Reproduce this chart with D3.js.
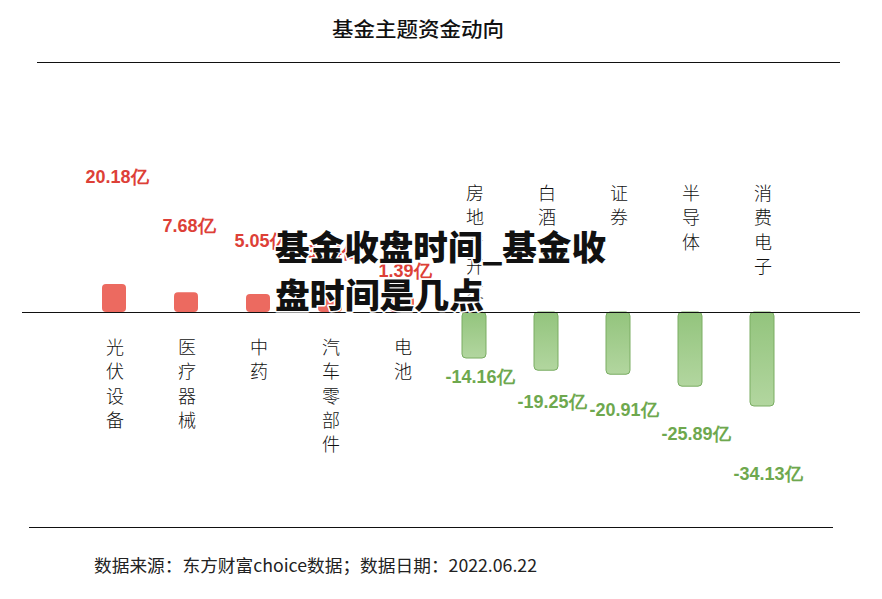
<!DOCTYPE html>
<html><head><meta charset="utf-8">
<script src="https://cdn.jsdelivr.net/npm/d3@7"></script>
<style>html,body{margin:0;padding:0;background:#fff;}svg{display:block;}</style>
</head><body>
<script>
const categories = ["光伏设备","医疗器械","中药","汽车零部件","电池","房地产开发","白酒","证券","半导体","消费电子"];
const values = [20.18, 7.68, 5.05, 3.44, 1.39, -14.16, -19.25, -20.91, -25.89, -34.13];
const valueLabels = ["20.18亿","7.68亿","5.05亿","3.44亿","1.39亿","-14.16亿","-19.25亿","-20.91亿","-25.89亿","-34.13亿"];
const title = "基金主题资金动向";
const footer = "数据来源：东方财富choice数据；数据日期：2022.06.22";
const watermark = ["基金收盘时间_基金收","盘时间是几点"];

const W = 882, H = 599, baseY = 312;
const svg = d3.select("body").append("svg").attr("width", W).attr("height", H);
const defs = svg.append("defs");
const g = defs.append("linearGradient").attr("id","gr").attr("x1",0).attr("y1",0).attr("x2",0).attr("y2",1);
g.append("stop").attr("offset","0%").attr("stop-color","#93c47d");
g.append("stop").attr("offset","100%").attr("stop-color","#b2d69f");

const font = "'Noto Sans CJK SC','Noto Sans',sans-serif";

// title
svg.append("text").attr("x", 418).attr("y", 28).attr("text-anchor","middle").attr("dominant-baseline","central")
  .attr("font-family", font).attr("font-size", 20).attr("font-weight", 500).attr("fill","#111")
  .attr("textLength", 172).attr("lengthAdjust","spacingAndGlyphs").text(title);
svg.append("line").attr("x1",37).attr("x2",840).attr("y1",62.5).attr("y2",62.5).attr("stroke","#111").attr("stroke-width",1.2);

const x = d3.scalePoint().domain(categories).range([114, 762]);
const posH = d3.scaleLinear().domain([0, d3.max(values)]).range([14.7, 28]);
const negH = d3.scaleLinear().domain([0, -d3.min(values)]).range([12, 94]);
const posLabelY = d3.scaleSqrt().domain([1.39, 20.18]).range([271, 177]);
const negLabelY = d3.scaleLinear().domain([14.16, 34.13]).range([377, 474]);
const bw = 24;

const data = categories.map((c,i)=>({c, v: values[i], lab: valueLabels[i]}));

// bars
svg.selectAll("rect.bar").data(data).enter().append("rect")
  .attr("x", d => x(d.c) - bw/2)
  .attr("y", d => d.v >= 0 ? baseY - posH(d.v) : baseY)
  .attr("width", bw)
  .attr("height", d => d.v >= 0 ? posH(d.v) : negH(-d.v))
  .attr("rx", 4)
  .attr("fill", d => d.v >= 0 ? "#ec6a60" : "url(#gr)")
  .attr("stroke", d => d.v >= 0 ? "none" : "#7aad63")
  .attr("stroke-width", 1);

// baseline
svg.append("line").attr("x1",22).attr("x2",860).attr("y1",baseY+0.5).attr("y2",baseY+0.5).attr("stroke","#111").attr("stroke-width",1.2);

// value labels
svg.selectAll("text.val").data(data).enter().append("text")
  .attr("x", d => x(d.c) + (d.v >= 0 ? 3 : 6))
  .attr("y", d => d.v >= 0 ? posLabelY(d.v) : negLabelY(-d.v))
  .attr("text-anchor","middle").attr("dominant-baseline","central")
  .attr("font-family","'Liberation Sans',Arial,sans-serif").attr("font-size", 18).attr("font-weight", 700)
  .attr("fill", d => d.v >= 0 ? "#dd4037" : "#6ea84e")
  .text(d => d.lab);

// category labels (vertical)
const catG = svg.selectAll("g.cat").data(data).enter().append("g");
catG.each(function(d){
  const chars = Array.from(d.c);
  const top = d.v >= 0 ? 346 : 192;
  d3.select(this).selectAll("text").data(chars).enter().append("text")
    .attr("x", x(d.c) + 1)
    .attr("y", (ch,j) => top + j*24.3)
    .attr("text-anchor","middle").attr("dominant-baseline","central")
    .attr("font-family", font).attr("font-size", 18).attr("font-weight", 300).attr("fill","#111")
    .text(ch => ch);
});

// bottom line & footer
svg.append("line").attr("x1",29).attr("x2",833).attr("y1",527.5).attr("y2",527.5).attr("stroke","#111").attr("stroke-width",1.2);
svg.append("text").attr("x", 94).attr("y", 564).attr("dominant-baseline","central")
  .attr("font-family", font).attr("font-size", 17).attr("font-weight", 400).attr("fill","#222")
  .attr("textLength", 443).attr("lengthAdjust","spacingAndGlyphs").text(footer);

// watermark overlay
const wm = svg.append("g");
wm.selectAll("text").data(watermark).enter().append("text")
  .attr("x", 275).attr("y", (t,i) => 245 + i*48)
  .attr("dominant-baseline","central")
  .attr("font-family", font).attr("font-size", 34).attr("font-weight", 900).attr("fill","#111")
  .attr("stroke","#fff").attr("stroke-width",3).attr("paint-order","stroke").attr("stroke-linejoin","round")
  .attr("textLength", (t,i) => i===0 ? 331 : 209).attr("lengthAdjust","spacingAndGlyphs")
  .text(t => t);
</script>
</body></html>
